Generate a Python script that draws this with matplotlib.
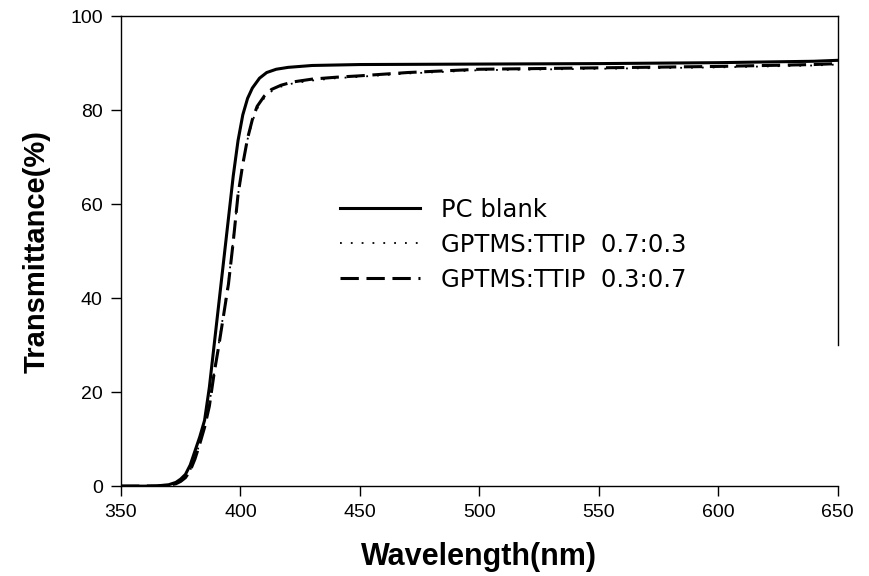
import matplotlib
matplotlib.use('Agg')
import matplotlib.pyplot as plt

plt.rcParams['font.family'] = ['Liberation Sans', 'DejaVu Sans']

# wavelength (nm) / transmittance (%)
wl_pc = [350, 360, 365, 370, 373, 375, 377, 379, 381, 383, 385, 387, 389, 391,
         393, 395, 397, 399, 401, 403, 405, 408, 411, 415, 420, 430, 450, 500,
         550, 600, 640, 650]
t_pc = [0, 0, 0.05, 0.3, 0.8, 1.5, 2.5, 4.5, 7.5, 10.5, 14, 21, 30, 39,
        48, 57, 66, 73.5, 79, 82.5, 84.7, 86.8, 88.0, 88.7, 89.1, 89.5, 89.7, 89.8,
        89.9, 90.1, 90.4, 90.6]

wl_73 = [350, 365, 370, 373, 375, 377, 379, 381, 383, 385, 387, 389, 391, 393,
         395, 397, 399, 401, 403, 405, 407, 410, 413, 417, 422, 430, 440, 450,
         470, 500, 550, 600, 640, 650]
t_73 = [0, 0.03, 0.2, 0.5, 1.0, 1.9, 3.4, 5.9, 9.2, 12.8, 17.5, 24, 30.5, 37,
        43.5, 52.5, 62, 68.5, 73.8, 77.6, 80.3, 82.6, 84.0, 85.0, 85.7, 86.3, 86.8, 87.1,
        87.8, 88.5, 88.8, 89.1, 89.5, 89.7]

wl_37 = [350, 365, 370, 373, 375, 377, 379, 381, 383, 385, 387, 389, 391, 393,
         395, 397, 399, 401, 403, 405, 407, 410, 413, 417, 422, 430, 440, 450,
         470, 500, 550, 600, 640, 650]
t_37 = [0, 0.03, 0.2, 0.5, 1.0, 1.8, 3.3, 5.8, 9.0, 12.5, 17, 24, 30, 36.5,
        43, 52, 62, 68.5, 74, 78, 80.8, 83, 84.4, 85.3, 86.0, 86.6, 87.0, 87.3,
        88.0, 88.7, 89.0, 89.3, 89.7, 89.9]

labels = ['PC blank', 'GPTMS:TTIP  0.7:0.3', 'GPTMS:TTIP  0.3:0.7']

fig = plt.figure(figsize=(8.7, 5.76), dpi=100)
ax = fig.add_axes([0.139, 0.156, 0.824, 0.816])

ax.plot(wl_pc, t_pc, color='black', lw=2.2, ls='-', label=labels[0])
ax.plot(wl_73, t_73, color='black', lw=1.3, ls=(0, (1, 5)), label=labels[1])
ax.plot(wl_37, t_37, color='black', lw=2.2, ls=(0, (6, 2.5)), label=labels[2])

ax.set_xlim(350, 650)
ax.set_ylim(0, 100)
ax.set_xticks(range(350, 651, 50))
ax.set_yticks(range(0, 101, 20))
ax.tick_params(direction='out', length=7, width=1, labelsize=14, pad=6,
               top=False, right=False)

for s in ax.spines.values():
    s.set_linewidth(1)
ax.spines['right'].set_bounds(30, 100)

ax.set_xlabel('Wavelength(nm)', fontsize=22, fontweight='bold', labelpad=15)
ax.set_ylabel('Transmittance(%)', fontsize=21, fontweight='bold', labelpad=14)

ax.legend(loc='upper left', bbox_to_anchor=(0.275, 0.66), frameon=False,
          prop={'family': 'DejaVu Sans', 'size': 17.5},
          handlelength=3.3, handletextpad=0.85, labelspacing=0.45)

fig.savefig('out.png', dpi=100)
